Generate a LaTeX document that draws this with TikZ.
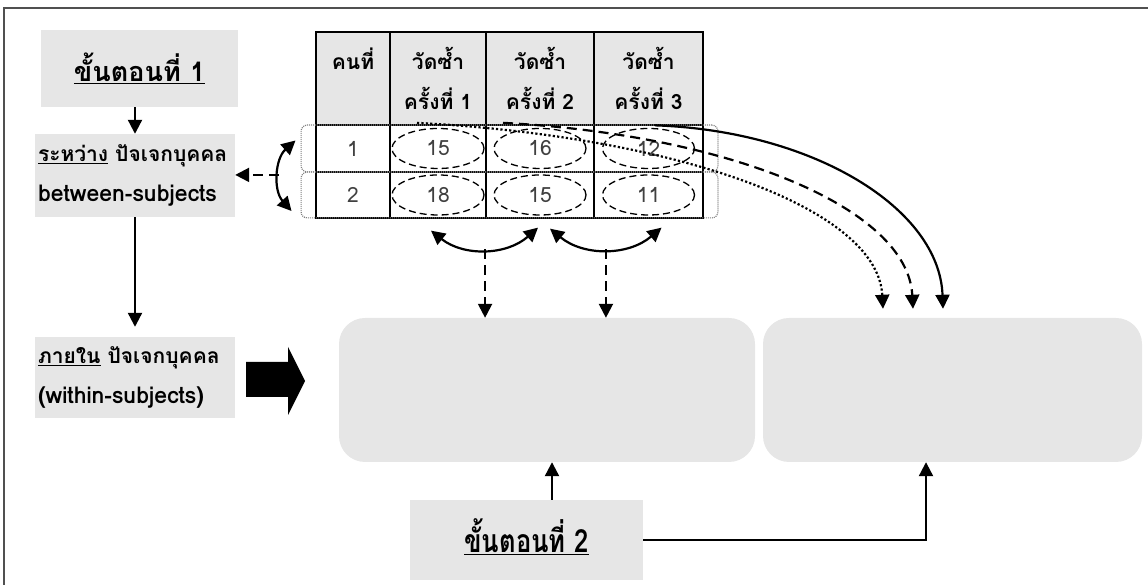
\documentclass[tikz,border=0pt]{standalone}
\usepackage{fontspec}
\setmainfont[Script=Thai]{Loma}
\newfontfamily\condfont[Script=Thai, FakeStretch=0.8]{Loma}
\usetikzlibrary{arrows.meta,positioning,fit,shapes.geometric}

\definecolor{boxgray}{HTML}{E6E6E6}
\definecolor{numgray}{HTML}{404040}
\definecolor{framegray}{HTML}{505050}

\newcommand{\latinline}[1]{{\fontsize{23pt}{40pt}\selectfont #1}}

\tikzset{
	greybox/.style = {rectangle, fill=boxgray, inner sep=3pt},
	textbox/.style = {minimum width=200pt, text width=194pt, align=left,
		font=\bfseries\fontsize{21pt}{40pt}\selectfont},
	bigbox/.style = {rectangle, fill=boxgray, rounded corners=26pt, minimum height=144pt},
	headcell/.style = {rectangle, draw, fill=boxgray, line width=1.8pt, minimum height=93pt,
		align=center, inner sep=0pt, font=\bfseries\fontsize{21pt}{40pt}\selectfont},
	datacell/.style = {rectangle, draw, line width=1.8pt, inner sep=0pt,
		text=numgray, font=\fontsize{21pt}{22pt}\selectfont},
	numell/.style = {ellipse, draw, line width=1.3pt, dash pattern=on 7pt off 4pt,
		minimum width=92pt, minimum height=40pt, inner sep=0pt,
		text=numgray, font=\fontsize{21pt}{22pt}\selectfont},
	rowbox/.style = {draw=gray, line width=1.2pt, dash pattern=on 1pt off 1pt, rounded corners=6pt},
	line/.style = {draw, line width=2.2pt, -{Triangle[length=14pt,width=14pt]}},
	dline/.style = {line, dash pattern=on 10pt off 6pt},
	dotline/.style = {line, dash pattern=on 2.2pt off 2.2pt},
	twoway/.style = {draw, line width=2.2pt, {Triangle[length=14pt,width=14pt]}-{Triangle[length=14pt,width=14pt]}}
}

\begin{document}
\begin{tikzpicture}[x=1pt, y=1pt]
	\useasboundingbox (0,0) rectangle (1148,585);
	\draw [framegray, line width=2.5pt] (4,0) -- (4,577) -- (1148,577);
	
	%left column
	\node [greybox, minimum width=197pt, minimum height=77pt, font=\bfseries\fontsize{27pt}{30pt}\selectfont] (step1) at (139.5,516.5) {\underline{ขั้นตอนที่ 1}};
	\node [greybox, textbox, minimum height=83pt] (btw) at (135,409.5) {\underline{ระหว่าง} ปัจเจกบุคคล\\\latinline{between-subjects}};
	\node [greybox, textbox, minimum height=81pt, below of = btw, node distance = 202pt] (wth) {\underline{ภายใน} ปัจเจกบุคคล\\\latinline{(within-subjects)}};
	
	\draw [line] (btw.north |- step1.south) -- (btw.north);
	\draw [line] (btw.south) -- ([yshift=10pt]wth.north);
	\fill (246,223) -- (288,223) -- (288,238) -- (305,204) -- (288,170) -- (288,188) -- (246,188) -- cycle;
	
	%big boxes
	\node [bigbox, minimum width=416pt] (box1) at (547,195) {};
	\node [bigbox, minimum width=379pt, right of = box1, node distance = 405.5pt] (box2) {};
	\node [greybox, minimum width=233pt, minimum height=80pt, font=\condfont\bfseries\fontsize{32pt}{34pt}\selectfont] (step2) at (526.5,45) {\raisebox{9pt}{\underline{ขั้นตอนที่ 2}}};
	
	%table head
	\node [headcell, minimum width=74pt] (h0) at (353,506.5) {คนที่\\~};
	\node [headcell, minimum width=96pt, right of = h0, node distance = 85pt] (h1) {วัดซ้ำ\\ครั้งที่ 1};
	\node [headcell, minimum width=108pt, right of = h1, node distance = 102pt] (h2) {วัดซ้ำ\\ครั้งที่ 2};
	\node [headcell, minimum width=109pt, right of = h2, node distance = 108.5pt] (h3) {วัดซ้ำ\\ครั้งที่ 3};
	
	%table rows
	\node [datacell, minimum width=74pt, minimum height=47pt, below of = h0, node distance = 70pt] (r1c0) {1};
	\node [datacell, minimum width=96pt, minimum height=47pt, below of = h1, node distance = 70pt] (r1c1) {};
	\node [datacell, minimum width=108pt, minimum height=47pt, below of = h2, node distance = 70pt] (r1c2) {};
	\node [datacell, minimum width=109pt, minimum height=47pt, below of = h3, node distance = 70pt] (r1c3) {};
	\node [datacell, minimum width=74pt, minimum height=46pt, below of = r1c0, node distance = 46.5pt] (r2c0) {2};
	\node [datacell, minimum width=96pt, minimum height=46pt, below of = r1c1, node distance = 46.5pt] (r2c1) {};
	\node [datacell, minimum width=108pt, minimum height=46pt, below of = r1c2, node distance = 46.5pt] (r2c2) {};
	\node [datacell, minimum width=109pt, minimum height=46pt, below of = r1c3, node distance = 46.5pt] (r2c3) {};
	
	\node [numell] (e11) at (r1c1) {15};
	\node [numell] (e12) at (r1c2) {16};
	\node [numell] (e13) at (r1c3) {12};
	\node [numell] (e21) at (r2c1) {18};
	\node [numell] (e22) at (r2c2) {15};
	\node [numell] (e23) at (r2c3) {11};
	
	\node [rowbox, fit=(r1c0)(r1c3), inner xsep=14pt, inner ysep=-1pt] (row1) {};
	\node [rowbox, fit=(r2c0)(r2c3), inner xsep=14pt, inner ysep=-1pt] (row2) {};
	
	%between rows
	\path [twoway] ([shift={(-5pt,8pt)}]row1.west) to [bend right=45] coordinate [pos=0.5] (lmid) ([shift={(-9pt,-16pt)}]row2.west);
	\draw [dline] (lmid) -- (lmid -| btw.east);
	
	%within rows
	\path [twoway] ([shift={(-7pt,-15pt)}]e21.south) to [bend right=40] coordinate [pos=0.5] (m1) ([shift={(-2pt,-12pt)}]e22.south);
	\path [twoway] ([shift={(10pt,-13pt)}]e22.south) to [bend right=40] coordinate [pos=0.5] (m2) ([shift={(13pt,-12pt)}]e23.south);
	\draw [dline] (m1) -- (m1 |- box1.north);
	\draw [dline] (m2) -- (m2 |- box1.north);
	
	%over all cells
	\path [dotline] ([shift={(-21pt,5pt)}]e11.north) to [out=-3, in=93, out looseness=1.31, in looseness=0.52] ([xshift=-69.5pt, yshift=9pt]box2.north);
	\path [dline] ([shift={(-37pt,5pt)}]e12.north) to [out=-3, in=93, out looseness=1.28, in looseness=0.58] ([xshift=-39.5pt, yshift=9pt]box2.north);
	\path [line] ([shift={(6.5pt,2.5pt)}]e13.north) to [out=-2, in=92, out looseness=1.19, in looseness=0.75] ([xshift=-9.5pt, yshift=9pt]box2.north);
	
	%step 2
	\coordinate (s2up) at ([xshift=25.5pt]step2.north);
	\draw [line] (s2up) -- (s2up |- box1.south);
	\draw [line] (step2.east) -| ([xshift=-26.5pt]box2.south);
\end{tikzpicture}
\end{document}
